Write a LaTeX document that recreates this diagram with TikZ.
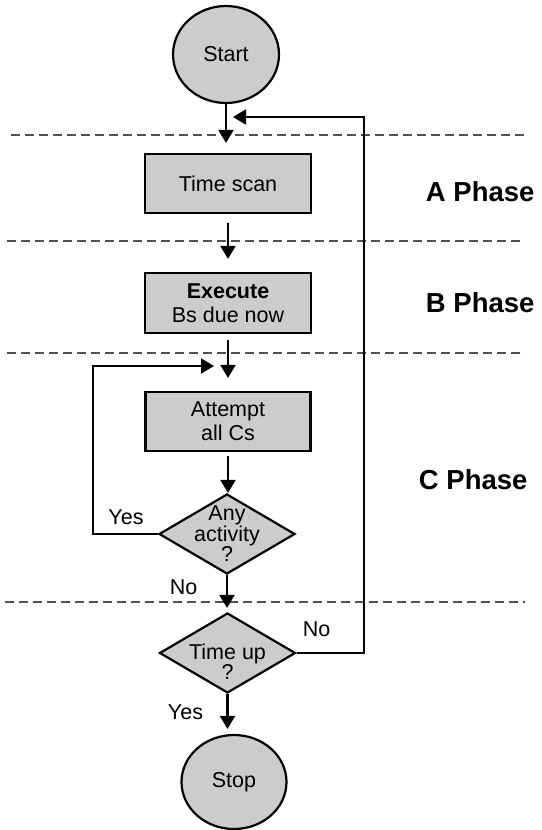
\documentclass[tikz,border=0pt]{standalone}
\usepackage{fontspec}
\setmainfont{Liberation Sans}
\usetikzlibrary{shapes.geometric,arrows.meta}
\definecolor{fillgray}{RGB}{204,204,204}
\definecolor{dashgray}{RGB}{80,80,80}
\tikzset{
  every node/.style={font=\fontsize{21.5}{24}\selectfont},
  boxnode/.style={draw=black, line width=2.2pt, fill=fillgray, rectangle, align=center, inner sep=0pt},
  termnode/.style={draw=black, line width=2.2pt, fill=fillgray, ellipse, inner sep=0pt},
  dianode/.style={draw=black, line width=2.2pt, fill=fillgray, diamond, inner sep=0pt, minimum width=136pt, minimum height=80pt},
  dialbl/.style={align=center, inner sep=0pt, font=\fontsize{21.5}{20}\selectfont},
  conn/.style={line width=2.2pt, -{Triangle[width=15pt,length=13pt]}},
  sepline/.style={draw=dashgray, line width=1.1pt, dash pattern=on 9pt off 5pt},
  phaselbl/.style={font=\fontsize{27.5}{30}\selectfont\bfseries, anchor=east},
  edgelbl/.style={font=\fontsize{21.5}{24}\selectfont}
}
\begin{document}
\begin{tikzpicture}[x=1pt,y=-1pt]
\useasboundingbox (0,0) rectangle (541,830);
% separators
\draw[sepline] (11,135) -- (527,135);
\draw[sepline] (7,241) -- (522,241);
\draw[sepline] (7,353) -- (525,353);
\draw[sepline] (5,602) -- (525,602);
% nodes
\node[termnode, minimum width=106pt, minimum height=97pt] (start) at (226,54.5) {Start};
\node[boxnode, minimum width=166pt, minimum height=59pt] (ts) at (228,183.5) {Time scan};
\node[boxnode, minimum width=166pt, minimum height=60pt] (ex) at (228,303) {\textbf{Execute}\\Bs due now};
\node[boxnode, minimum width=165pt, minimum height=59pt] (at) at (228,421.5) {Attempt\\all Cs};
\node[dianode] (any) at (227,534) {};
\node[dialbl] (anytxt) at (227,534) {Any\\activity\\?};
\node[dianode] (tu) at (227.5,653) {};
\node[dialbl] (tutxt) at (227.5,662) {Time up\\?};
\node[termnode, minimum width=105pt, minimum height=94pt] (stop) at (234,782) {Stop};
% phase labels
\node[phaselbl] (pa) at (538,192) {A Phase};
\node[phaselbl] (pb) at (538,303) {B Phase};
\node[phaselbl] (pc) at (531,480) {C Phase};
% connectors
\draw[conn, shorten >=10pt] (start.south) -- (start.south |- ts.north);
\draw[conn, shorten <=9pt, shorten >=13pt] (ts.south) -- (ts.south |- ex.north);
\draw[conn, shorten <=6pt, shorten >=13pt] (ex.south) -- (ex.south |- at.north);
\draw[conn, shorten <=4pt] (at.south) -- (at.south |- any.north);
\draw[conn, shorten >=4pt] (any.south) -- (any.south |- tu.north);
\draw[conn, shorten >=5pt] (tu.south) -- (tu.south |- stop.north);
% Yes loop
\coordinate (yescorner) at (93,366);
\coordinate (yesend) at (214,366);
\draw[conn] (any.west) -| (yescorner) -- (yesend);
% No loop back to top
\coordinate (nocorner) at (364,117);
\coordinate (noend) at (233,117);
\draw[conn] (tu.east) -| (nocorner) -- (noend);
% edge labels
\node[edgelbl] (lyes1) at (126,517) {Yes};
\node[edgelbl] (lno1) at (183.5,587) {No};
\node[edgelbl] (lno2) at (316.5,629) {No};
\node[edgelbl] (lyes2) at (185.5,712) {Yes};
\end{tikzpicture}
\end{document}
